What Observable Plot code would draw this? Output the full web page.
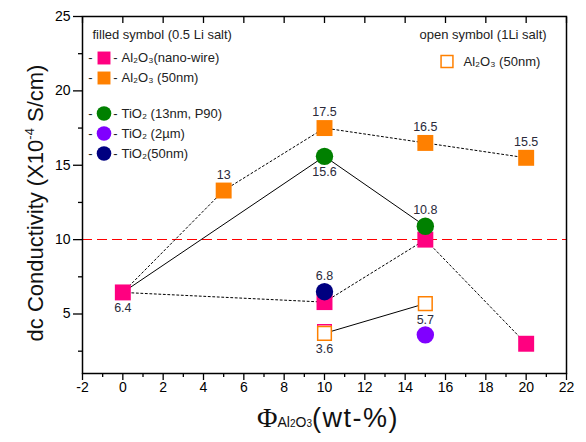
<!DOCTYPE html>
<html><head><meta charset="utf-8">
<script src="https://cdn.jsdelivr.net/npm/d3@7"></script>
<script src="https://cdn.jsdelivr.net/npm/@observablehq/plot@0.6"></script>
<style>body{margin:0;background:#fff}</style>
</head><body><div id="chart"></div>
<script>
const FONT = '"Liberation Sans", Arial, sans-serif';
const pink = "#ff0080", orange = "#ff8000", green = "#008000", purple = "#8000ff", navy = "#000080";

// data
const baseX = [0], baseY = [6.45];                 // 0 wt-% sample, start of every line
const nanoWireX = [0, 10, 15, 20];
const nanoWireY = [6.45, 5.8, 10.0, 3.0];
const al50X = [5, 10, 15, 20];
const al50Y = [13.3, 17.5, 16.5, 15.5];
const tio13X = [10, 15];
const tio13Y = [15.6, 10.9];
const tio2umX = [15];
const tio2umY = [3.6];
const tio50X = [10];
const tio50Y = [6.5];
const open1LiX = [10, 15];
const open1LiY = [3.7, 5.7];
const openPinkX = [10];
const openPinkY = [3.82];
const refY = [10];

const aboveX = [5, 10, 15, 20, 15, 10];
const aboveY = [13.3, 17.5, 16.5, 15.5, 10.9, 6.5];
const aboveText = ["13", "17.5", "16.5", "15.5", "10.8", "6.8"];
const belowX = [0, 10, 10, 15];
const belowY = [6.45, 15.6, 3.7, 5.7];
const belowText = ["6.4", "15.6", "3.6", "5.7"];

const xMajor = [-2, 0, 2, 4, 6, 8, 10, 12, 14, 16, 18, 20, 22];
const xMinor = [-1, 1, 3, 5, 7, 9, 11, 13, 15, 17, 19, 21];
const yMajor = [5, 10, 15, 20, 25];
const yMinor = [2.5, 7.5, 12.5, 17.5, 22.5];

const filledTitle = "filled symbol (0.5 Li salt)";
const filledLabels = ["Al₂O₃(nano-wire)", "Al₂O₃ (50nm)", "TiO₂ (13nm, P90)", "TiO₂ (2µm)", "TiO₂(50nm)"];
const filledColors = [pink, orange, green, purple, navy];
const filledSymbols = ["square", "square", "circle", "circle", "circle"];
const openTitle = "open symbol (1Li salt)";
const openLabels = ["Al₂O₃ (50nm)"];

const pts = (xs, ys) => xs.map((x, i) => ({x, y: ys[i]}));
const rowDy = i => i < 2 ? 41.5 + 20 * i : 97 + 20 * (i - 2);

const dotted = {x: "x", y: "y", stroke: "black", strokeWidth: 1, strokeDasharray: "2,2.5"};
const solid = {x: "x", y: "y", stroke: "black", strokeWidth: 1};
const txt = {fill: "#222", fontSize: 13, fontFamily: FONT};

const legendMarks = [];
legendMarks.push(Plot.text([filledTitle], {...txt, text: d => d, frameAnchor: "top-left", textAnchor: "start", lineAnchor: "middle", dx: 10, dy: 18}));
filledLabels.forEach((lab, i) => {
  legendMarks.push(Plot.text(["-"], {...txt, text: d => d, frameAnchor: "top-left", textAnchor: "middle", lineAnchor: "middle", dx: 8, dy: rowDy(i)}));
  legendMarks.push(Plot.text(["-"], {...txt, text: d => d, frameAnchor: "top-left", textAnchor: "middle", lineAnchor: "middle", dx: 33, dy: rowDy(i)}));
  legendMarks.push(Plot.dot([lab], {frameAnchor: "top-left", dx: 21.5, dy: rowDy(i), symbol: filledSymbols[i], fill: filledColors[i], r: 7.3}));
  legendMarks.push(Plot.text([lab], {...txt, text: d => d, frameAnchor: "top-left", textAnchor: "start", lineAnchor: "middle", dx: 39, dy: rowDy(i)}));
});
legendMarks.push(Plot.text([openTitle], {...txt, text: d => d, frameAnchor: "top-left", textAnchor: "start", lineAnchor: "middle", dx: 337, dy: 18}));
legendMarks.push(Plot.dot(openLabels, {frameAnchor: "top-left", dx: 364.5, dy: 45, symbol: "square", fill: "white", stroke: orange, strokeWidth: 1.5, r: 6.7}));
legendMarks.push(Plot.text(openLabels, {...txt, text: d => d, frameAnchor: "top-left", textAnchor: "start", lineAnchor: "middle", dx: 381, dy: 45}));

const svg = Plot.plot({
  width: 586, height: 442,
  marginLeft: 82, marginRight: 20, marginTop: 16, marginBottom: 69,
  style: {fontFamily: FONT, background: "white", color: "black"},
  x: {domain: [-2, 22], axis: null},
  y: {domain: [1, 25], axis: null},
  marks: [
    Plot.ruleY(refY, {stroke: "#ff0000", strokeWidth: 1.2, strokeDasharray: "10,5", shapeRendering: "crispEdges"}),
    Plot.line(pts(nanoWireX, nanoWireY), dotted),
    Plot.line(pts(baseX.concat(al50X), baseY.concat(al50Y)), dotted),
    Plot.line(pts(baseX.concat(tio13X), baseY.concat(tio13Y)), solid),
    Plot.line(pts(open1LiX, open1LiY), solid),
    Plot.dot(pts(nanoWireX, nanoWireY), {x: "x", y: "y", symbol: "square", fill: pink, r: 9}),
    Plot.dot(pts(al50X, al50Y), {x: "x", y: "y", symbol: "square", fill: orange, r: 9}),
    Plot.dot(pts(tio13X, tio13Y), {x: "x", y: "y", symbol: "circle", fill: green, r: 8.7}),
    Plot.dot(pts(tio2umX, tio2umY), {x: "x", y: "y", symbol: "circle", fill: purple, r: 8.7}),
    Plot.dot(pts(tio50X, tio50Y), {x: "x", y: "y", symbol: "circle", fill: navy, r: 8.7}),
    Plot.dot(pts(openPinkX, openPinkY), {x: "x", y: "y", symbol: "square", fill: "white", stroke: pink, strokeWidth: 1.3, r: 7.7}),
    Plot.dot(pts(open1LiX, open1LiY), {x: "x", y: "y", symbol: "square", fill: "white", stroke: orange, strokeWidth: 1.5, r: 7.7}),
    Plot.text(pts(aboveX, aboveY).map((d, i) => ({...d, t: aboveText[i]})), {x: "x", y: "y", text: "t", dy: -16, fill: "#2a2a3a", fontSize: 12.5}),
    Plot.text(pts(belowX, belowY).map((d, i) => ({...d, t: belowText[i]})), {x: "x", y: "y", text: "t", dy: 16, fill: "#2a2a3a", fontSize: 12.5}),
    Plot.frame({stroke: "black", strokeWidth: 1.5}),
    Plot.axisX({ticks: xMajor, tickSize: 7, tickPadding: 2, fontSize: 14, label: null, tickFormat: d => String(d), strokeWidth: 1.3}),
    Plot.axisX({ticks: xMinor, tickSize: 4, label: null, tickFormat: () => "", strokeWidth: 1.3}),
    Plot.axisX({anchor: "top", ticks: xMajor, tickSize: 6, dy: 6, label: null, tickFormat: () => "", strokeWidth: 1.3}),
    Plot.axisY({ticks: yMajor, tickSize: 9, tickPadding: 3, fontSize: 14, label: null, tickFormat: d => String(d), strokeWidth: 1.3}),
    Plot.axisY({ticks: yMinor, tickSize: 4, label: null, tickFormat: () => "", strokeWidth: 1.3}),
    ...legendMarks
  ]
});

const s = d3.select(svg);
const yl = s.append("text")
  .attr("transform", "translate(43,203) rotate(-90)")
  .attr("text-anchor", "middle").attr("font-size", 22).attr("fill", "#111")
  .attr("font-family", FONT);
yl.append("tspan").text("dc Conductivity (X10");
yl.append("tspan").attr("font-size", 13).attr("dy", -9).text("-4");
yl.append("tspan").attr("dy", 9).text(" S/cm)");

const xl = s.append("text")
  .attr("x", 257).attr("y", 427)
  .attr("text-anchor", "start").attr("fill", "#111").attr("font-family", FONT);
xl.append("tspan").attr("font-family", '"Liberation Serif", "Times New Roman", serif').attr("font-size", 28).text("Φ");
xl.append("tspan").attr("font-size", 14).text("Al");
xl.append("tspan").attr("font-size", 10).text("2");
xl.append("tspan").attr("font-size", 14).text("O");
xl.append("tspan").attr("font-size", 10).text("3");
xl.append("tspan").attr("font-size", 27).attr("letter-spacing", 1.5).text("(wt-%)");

document.getElementById("chart").appendChild(svg);
</script>
</body></html>
